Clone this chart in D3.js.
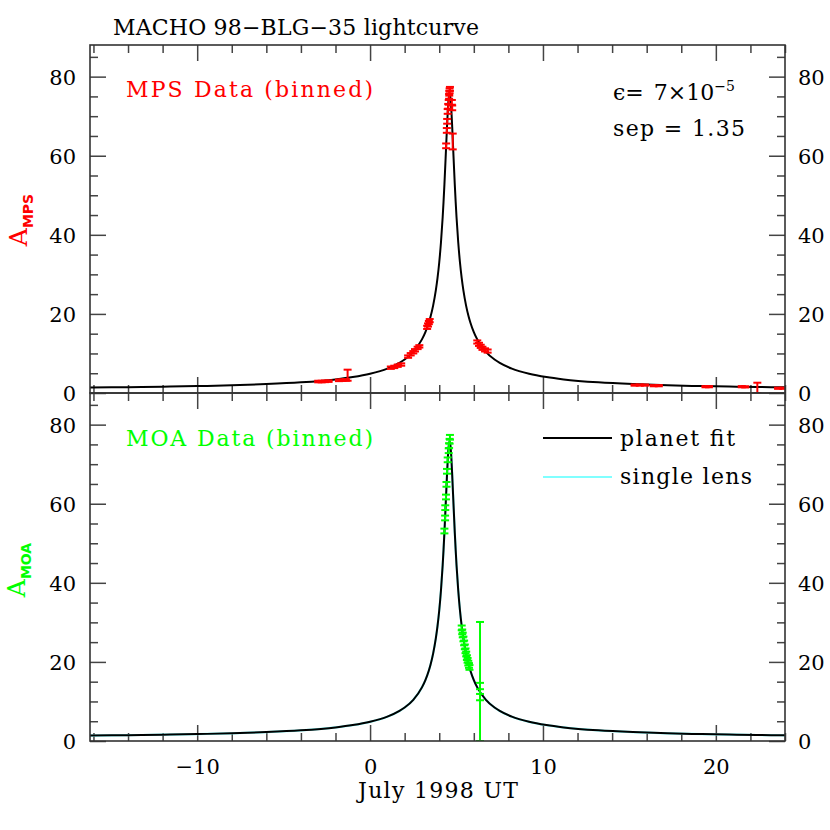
<!DOCTYPE html>
<html><head><meta charset="utf-8">
<script src="https://cdn.jsdelivr.net/npm/d3@7"></script>
<style>body{margin:0;background:#fff} text{font-family:"DejaVu Serif",serif;fill:#000}</style>
</head><body><svg id="c" width="830" height="830"></svg>
<script>
// ---- data ----
const curveT = [-16.2,-14,-12,-10,-8,-6,-4,-2,-1,0,1,1.7,2,2.5,3,3.2,3.4,3.5,3.65,3.8,3.9,4.0,4.1,4.2,4.25,4.3,4.4,4.45,4.5,4.55,4.6,4.65,4.7,4.75,4.8,4.9,4.95,5.0,5.1,5.2,5.3,5.4,5.55,5.7,5.8,6.0,6.2,6.7,7.2,7.5,8.2,9.2,10.2,11.2,13.2,15.2,17.2,19.2,21.2,23.2,24];
const curveA = [1.38,1.48,1.59,1.75,1.95,2.25,2.70,3.44,4.02,4.85,6.15,7.60,8.46,10.41,13.56,15.41,17.84,19.36,22.17,25.87,29.03,33.0,38.06,44.5,48.4,52.7,62.4,67.3,71.7,74.65,75.76,74.65,71.7,67.3,62.4,52.7,48.4,44.5,38.06,33.0,29.03,25.87,22.17,19.36,17.84,15.41,13.56,10.41,8.46,7.60,6.15,4.85,4.02,3.44,2.70,2.25,1.95,1.75,1.59,1.48,1.44];

const mpsT   = [-3.0,-2.8,-2.6,-2.4,-1.8,-1.6,-1.4,-1.3,1.2,1.4,1.6,1.8,2.2,2.35,2.5,2.6,2.75,2.85,3.3,3.35,3.4,3.45,4.40,4.44,4.46,4.49,4.52,4.55,4.57,4.58,4.60,4.62,4.73,4.75,4.78,6.2,6.3,6.4,6.5,6.65,6.8,15.3,15.6,15.9,16.4,16.7,19.4,19.6,21.5,21.7,22.4,23.6,23.9];
const mpsA   = [2.9,2.9,2.95,3.0,3.2,3.25,3.3,4.5,6.4,6.6,6.9,7.2,9.2,9.8,10.3,10.8,11.4,11.8,16.6,17.2,17.8,18.3,62.5,66.4,68.7,71.2,72.5,73.5,75.0,75.8,76.4,76.9,73.5,72.1,63.6,12.9,12.3,11.8,11.3,10.9,10.6,2.0,2.0,2.0,1.85,1.85,1.6,1.6,1.6,1.55,1.3,1.2,1.2];
const mpsErr = [0.2,0.2,0.2,0.2,0.2,0.2,0.2,1.4,0.3,0.3,0.3,0.3,0.3,0.3,0.3,0.3,0.3,0.3,0.4,0.4,0.4,0.4,0.6,0.6,0.6,0.6,0.6,0.6,0.6,0.6,0.6,0.5,0.6,0.6,2.0,0.4,0.4,0.4,0.4,0.4,0.4,0.15,0.15,0.15,0.15,0.15,0.15,0.15,0.15,0.15,1.3,0.15,0.15];

const moaT   = [4.30,4.34,4.35,4.39,4.42,4.45,4.49,4.55,4.57,4.60,4.62,5.30,5.33,5.36,5.40,5.44,5.48,5.52,5.56,5.60,5.64,5.68,5.72,5.75,6.36,6.36,6.36];
const moaA   = [53.1,56.4,59.0,61.7,64.9,68.2,71.1,73.4,74.7,75.8,76.8,28.6,27.6,26.8,25.8,24.8,23.8,22.8,22.0,21.1,20.4,19.7,19.1,18.6,15.05,13.9,11.1];
const moaErr = [0.6,0.6,0.6,0.6,0.6,0.6,0.6,0.6,0.6,0.6,0.6,0.6,0.6,0.6,0.6,0.6,0.6,0.6,0.6,0.6,0.6,0.6,0.6,0.6,15.05,0.8,0.8];

const xMajorTicks = [-10,0,10,20];
const xMajorLabels = ["\u221210","0","10","20"];
const yMajorTicks = [0,20,40,60,80];
const yMajorLabels = ["0","20","40","60","80"];

// ---- layout ----
const svg = d3.select("#c");
const L = 90, R = 785;
const panels = [
  {top:45, bot:393, data:[mpsT,mpsA,mpsErr], color:"#ff0000", name:"MPS"},
  {top:393, bot:741, data:[moaT,moaA,moaErr], color:"#00ff00", name:"MOA"}
];
const x = d3.scaleLinear().domain([-16.2, 24]).range([L, R]);
const xMinor = d3.range(-16, 25, 2).filter(v => v % 10 !== 0);
const yMinor = d3.range(0, 89, 5).filter(v => v % 20 !== 0);
const tickCol = "#444";
const FS = 22;

panels.forEach((p, i) => {
  const y = d3.scaleLinear().domain([0, 88]).range([p.bot, p.top]);
  const g = svg.append("g");
  const clipId = "clip" + i;
  svg.append("clipPath").attr("id", clipId).append("rect")
    .attr("x", L).attr("y", p.top).attr("width", R - L).attr("height", p.bot - p.top);

  const addAxis = (axis, tx, ty) => {
    const a = g.append("g").attr("transform", `translate(${tx},${ty})`).call(axis);
    a.select(".domain").remove();
    a.selectAll("line").attr("stroke", tickCol).attr("stroke-width", 1.5);
    a.selectAll("text").remove();
  };
  addAxis(d3.axisBottom(x).tickValues(xMinor).tickSize(-8), 0, p.bot);
  addAxis(d3.axisBottom(x).tickValues(xMajorTicks).tickSize(-16), 0, p.bot);
  addAxis(d3.axisTop(x).tickValues(xMinor).tickSize(-8), 0, p.top);
  addAxis(d3.axisTop(x).tickValues(xMajorTicks).tickSize(-16), 0, p.top);
  addAxis(d3.axisLeft(y).tickValues(yMinor).tickSize(-8), L, 0);
  addAxis(d3.axisLeft(y).tickValues(yMajorTicks).tickSize(-16), L, 0);
  addAxis(d3.axisRight(y).tickValues(yMinor).tickSize(-8), R, 0);
  addAxis(d3.axisRight(y).tickValues(yMajorTicks).tickSize(-16), R, 0);

  const lab = (axis, tx) => {
    const a = g.append("g").attr("transform", `translate(${tx},0)`).call(axis);
    a.select(".domain").remove();
    a.selectAll("line").remove();
    a.selectAll("text").attr("font-family", "DejaVu Serif").attr("font-size", 21).attr("fill", "#000").attr("dy", "0.36em");
  };
  lab(d3.axisLeft(y).tickValues(yMajorTicks).tickSize(0).tickPadding(14).tickFormat((d, k) => yMajorLabels[k]), L);
  lab(d3.axisRight(y).tickValues(yMajorTicks).tickSize(0).tickPadding(13).tickFormat((d, k) => yMajorLabels[k]), R);

  const line = d3.line().x((d, k) => x(curveT[k])).y(d => y(d)).curve(d3.curveMonotoneX);
  const cg = g.append("g").attr("clip-path", `url(#${clipId})`);
  if (i === 1) {
    cg.append("path").attr("d", line(curveA)).attr("fill", "none").attr("stroke", "#80ffff").attr("stroke-width", 2.2);
  }
  cg.append("path").attr("d", line(curveA)).attr("fill", "none").attr("stroke", "#000").attr("stroke-width", 2);

  const [T, A, E] = p.data;
  const eb = cg.append("g").attr("stroke", p.color).attr("stroke-width", 2);
  T.forEach((t, k) => {
    const cx = x(t), y1 = y(A[k] + E[k]), y0 = y(A[k] - E[k]);
    eb.append("line").attr("x1", cx).attr("x2", cx).attr("y1", y1).attr("y2", y0);
    eb.append("line").attr("x1", cx - 4).attr("x2", cx + 4).attr("y1", y1).attr("y2", y1);
    eb.append("line").attr("x1", cx - 4).attr("x2", cx + 4).attr("y1", y0).attr("y2", y0);
  });

  g.append("rect").attr("x", L).attr("y", p.top).attr("width", R - L).attr("height", p.bot - p.top)
    .attr("fill", "none").attr("stroke", "#333").attr("stroke-width", 1.6);

  const yl = svg.append("text").attr("transform", `translate(${i === 0 ? 27 : 25},${i === 0 ? 220 : 570}) rotate(-90)`)
    .attr("text-anchor", "middle").style("fill", p.color);
  yl.append("tspan").attr("font-size", 25).text("A");
  yl.append("tspan").attr("font-size", 14).attr("font-weight", "bold").attr("font-family", "DejaVu Sans").attr("dy", 6).text(p.name);

  svg.append("text").attr("x", 126).attr("y", i === 0 ? 97 : 446).attr("font-size", FS)
    .attr("textLength", 247).attr("lengthAdjust", "spacing")
    .style("fill", p.color).text(p.name + " Data (binned)");
});

{
  const a = svg.append("g").attr("transform", `translate(0,741)`)
    .call(d3.axisBottom(x).tickValues(xMajorTicks).tickSize(0).tickPadding(18).tickFormat((d, k) => xMajorLabels[k]));
  a.select(".domain").remove();
  a.selectAll("text").attr("font-family", "DejaVu Serif").attr("font-size", 21).attr("fill", "#000");
}

svg.append("text").attr("x", 113).attr("y", 35).attr("font-size", FS)
  .attr("textLength", 366).attr("lengthAdjust", "spacing").text("MACHO 98\u2212BLG\u221235 lightcurve");
svg.append("text").attr("x", 358).attr("y", 798).attr("font-size", FS)
  .attr("textLength", 160).attr("lengthAdjust", "spacing").text("July 1998 UT");

{
  const t = svg.append("text").attr("x", 613).attr("y", 100).attr("font-size", FS);
  t.append("tspan").text("\u03F5=");
  t.append("tspan").attr("dx", 10).text("7\u00D710");
  t.append("tspan").attr("font-size", 14).attr("dy", -9).text("\u22125");
  svg.append("text").attr("x", 613).attr("y", 136).attr("font-size", FS)
    .attr("textLength", 132).attr("lengthAdjust", "spacing").text("sep = 1.35");
}

svg.append("line").attr("x1", 543).attr("x2", 612).attr("y1", 438).attr("y2", 438).attr("stroke", "#000").attr("stroke-width", 2);
svg.append("text").attr("x", 620).attr("y", 446).attr("font-size", FS).attr("textLength", 115).attr("lengthAdjust", "spacing").text("planet fit");
svg.append("line").attr("x1", 543).attr("x2", 612).attr("y1", 477).attr("y2", 477).attr("stroke", "#80ffff").attr("stroke-width", 2);
svg.append("text").attr("x", 620).attr("y", 484).attr("font-size", FS).attr("textLength", 132).attr("lengthAdjust", "spacing").text("single lens");
</script></body></html>
